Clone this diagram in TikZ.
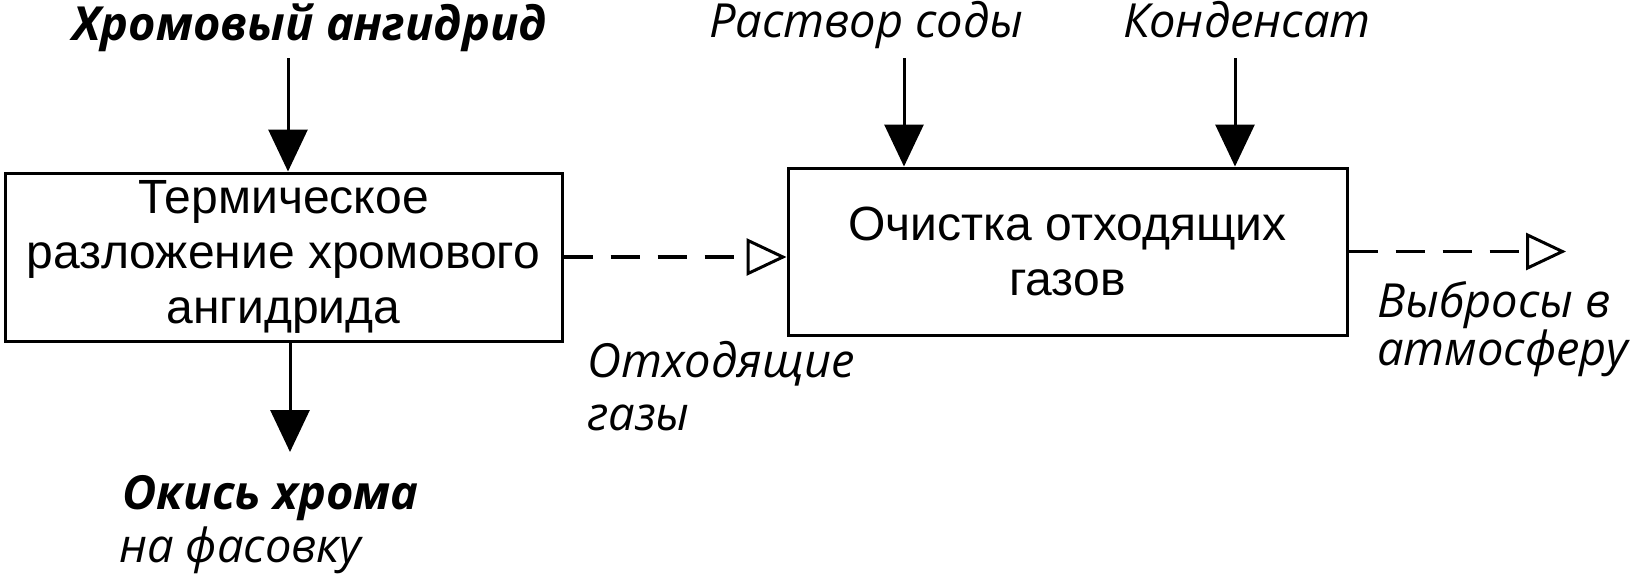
\documentclass[tikz,border=0pt]{standalone}
\usepackage{fontspec}
\setmainfont{Liberation Sans}
\newfontfamily\labelfont{Open Sans}
\usetikzlibrary{arrows.meta}
\tikzset{
  box/.style={draw, line width=3pt, inner sep=0pt, align=center,
    font=\fontsize{48}{55}\selectfont},
  lbl/.style={anchor=base west, inner sep=0pt, font=\labelfont\fontsize{47}{50}\selectfont\itshape},
  blbl/.style={anchor=base west, inner sep=0pt, font=\labelfont\fontsize{47}{50}\selectfont\bfseries\itshape},
  solidarrow/.style={line width=3pt, -{Triangle[length=42pt,width=39pt]}},
  flowarrow/.style={line width=3.2pt, dash pattern=on 29pt off 18pt,
    -{Triangle[open,length=40pt,width=37pt,line width=3pt]}},
}
\begin{document}
\begin{tikzpicture}[x=1pt,y=-1pt]
\useasboundingbox[fill=white] (0,0) rectangle (1642,574);
% boxes
\node[box, minimum width=557pt, minimum height=168pt] (b1) at (283.5,257)
  {Термическое\\разложение хромового\\ангидрида};
\node[box, minimum width=559pt, minimum height=167pt] (b2) at (1067.5,251.5)
  {Очистка отходящих\\газов};
% labels
\node[blbl] (hrom) at (72,40) {Хромовый ангидрид};
\node[lbl] (soda) at (709,37) {Раствор соды};
\node[lbl] (kond) at (1123,37) {Конденсат};
\node[blbl] (okis) at (122,509) {Окись хрома};
\node[lbl] (fas) at (119,562) {на фасовку};
\node[lbl] (otx1) at (587,377) {Отходящие};
\node[lbl] (otx2) at (587,430) {газы};
\node[lbl] (vyb1) at (1377,317) {Выбросы в};
\node[lbl] (vyb2) at (1377,365) {атмосферу};
% free ends
\coordinate (c1) at (288,58);
\coordinate (c2) at (904,58);
\coordinate (c3) at (1235,58);
\coordinate (c4) at (290,452);
\coordinate (c5) at (1566,251.5);
% arrows
\draw[solidarrow] (c1) -- (c1 |- b1.north);
\draw[solidarrow] (c2) -- (c2 |- b2.north);
\draw[solidarrow] (c3) -- (c3 |- b2.north);
\draw[solidarrow] (c4 |- b1.south) -- (c4);
\draw[flowarrow] (b1.east) -- (b1.east -| b2.west);
\draw[flowarrow] (b2.east) -- (c5);
\end{tikzpicture}
\end{document}
